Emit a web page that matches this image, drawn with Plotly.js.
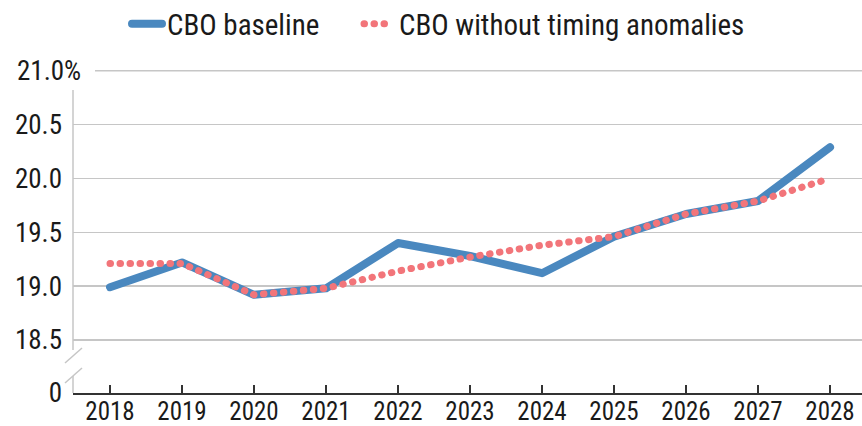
<!DOCTYPE html>
<html>
<head>
<meta charset="utf-8">
<script src="https://cdn.plot.ly/plotly-3.0.1.min.js"></script>
<style>
  html, body { margin: 0; padding: 0; background: #fff; }
  #chart { width: 862px; height: 426px; }
  path.js-line { stroke-linecap: round; stroke-linejoin: round; }
</style>
</head>
<body>
<div id="chart"></div>
<script>
// ---- data ----
const years = [2018, 2019, 2020, 2021, 2022, 2023, 2024, 2025, 2026, 2027, 2028];
const cboBaseline = [18.99, 19.22, 18.92, 18.98, 19.40, 19.28, 19.12, 19.46, 19.67, 19.79, 20.29];
const cboWithoutTiming = [19.21, 19.21, 18.92, 18.98, 19.14, 19.27, 19.38, 19.46, 19.67, 19.79, 20.00];
const yTickVals = [18.5, 19.0, 19.5, 20.0, 20.5];
const yTickText = ['18.5', '19.0', '19.5', '20.0', '20.5'];
const yTopVal = 21.0;
const yTopText = '21.0%';
const seriesNames = ['CBO baseline', 'CBO without timing anomalies'];

const FONT = '"Liberation Sans Narrow", "Arial Narrow", "Roboto Condensed", "Liberation Sans", sans-serif';
const TXT = '#1a1a1a';
const GRID = '#c6c6c6';

const traces = [
  {
    x: years, y: cboBaseline, name: seriesNames[0],
    type: 'scatter', mode: 'lines',
    line: { color: '#4a88bf', width: 8 },
    legendwidth: 187,
    xaxis: 'x', yaxis: 'y', hoverinfo: 'skip'
  },
  {
    x: years, y: cboWithoutTiming, name: seriesNames[1],
    type: 'scatter', mode: 'lines',
    line: { color: '#f2757a', width: 7, dash: '0.5px,9.5px' },
    xaxis: 'x', yaxis: 'y', hoverinfo: 'skip'
  },
  {
    // empty helper trace so the lower (broken) axis segment exists
    x: [], y: [], type: 'scatter', mode: 'lines',
    xaxis: 'x', yaxis: 'y2', showlegend: false, hoverinfo: 'skip'
  }
];

const H = 327; // plot height in px
const layout = {
  width: 862, height: 426,
  margin: { l: 73, r: 0, t: 66, b: 33 },
  paper_bgcolor: '#fff', plot_bgcolor: '#fff',
  font: { family: FONT, color: TXT, size: 27 },
  showlegend: true,
  legend: {
    orientation: 'h',
    xref: 'container', yref: 'container',
    x: 127 / 862, xanchor: 'left',
    y: 1 - 24 / 426, yanchor: 'middle',
    font: { family: FONT, size: 29, color: TXT },
    bgcolor: 'rgba(0,0,0,0)',
    traceorder: 'normal'
  },
  xaxis: {
    anchor: 'y2',
    range: [2017.486, 2028.444],
    tickvals: years,
    ticktext: years.map(String),
    showgrid: false, zeroline: false,
    showline: true, linecolor: '#333', linewidth: 2,
    ticks: 'inside', ticklen: 8, tickwidth: 1.5, tickcolor: '#333',
    ticklabelstandoff: -5,
    tickfont: { family: FONT, size: 25, color: TXT },
    fixedrange: true
  },
  yaxis: {
    domain: [(393 - 350) / H, 1],
    anchor: 'x',
    range: [18.4074, 21.0435],
    tickvals: yTickVals, ticktext: yTickText,
    showgrid: true, gridcolor: GRID, gridwidth: 1.5,
    zeroline: false, showline: false,
    ticks: '', ticklabelstandoff: 10,
    tickfont: { family: FONT, size: 27, color: TXT },
    fixedrange: true
  },
  yaxis2: {
    domain: [0, 0.04],
    anchor: 'x',
    range: [0, 1],
    tickvals: [0], ticktext: ['0'],
    showgrid: false, zeroline: false, showline: false,
    ticks: '', ticklabelstandoff: 10,
    tickfont: { family: FONT, size: 27, color: TXT },
    fixedrange: true
  },
  shapes: [
    { type: 'line', xref: 'paper', yref: 'y', x0: (95 - 73) / 789, x1: 1, y0: yTopVal, y1: yTopVal,
      line: { color: GRID, width: 1.5 }, layer: 'below' },
    { type: 'line', xref: 'paper', yref: 'paper', x0: 0, x1: 0, y0: (393 - 350) / H, y1: (393 - 90) / H,
      line: { color: GRID, width: 1.5 } },
    { type: 'line', xref: 'paper', yref: 'paper', x0: 0, x1: 0, y0: 0, y1: (393 - 376) / H,
      line: { color: GRID, width: 1.5 } },
    { type: 'line', xref: 'paper', yref: 'paper', x0: (65 - 73) / 789, x1: (82 - 73) / 789,
      y0: (393 - 363) / H, y1: (393 - 348) / H, line: { color: GRID, width: 1.5 } },
    { type: 'line', xref: 'paper', yref: 'paper', x0: (65 - 73) / 789, x1: (82 - 73) / 789,
      y0: (393 - 383) / H, y1: (393 - 368) / H, line: { color: GRID, width: 1.5 } }
  ],
  annotations: [
    { xref: 'paper', yref: 'y', x: (83 - 73) / 789, y: yTopVal, xanchor: 'right', yanchor: 'middle',
      text: yTopText, showarrow: false, font: { family: FONT, size: 27, color: TXT } }
  ]
};

Plotly.newPlot('chart', traces, layout, { displayModeBar: false, staticPlot: true, responsive: false });
</script>
</body>
</html>
